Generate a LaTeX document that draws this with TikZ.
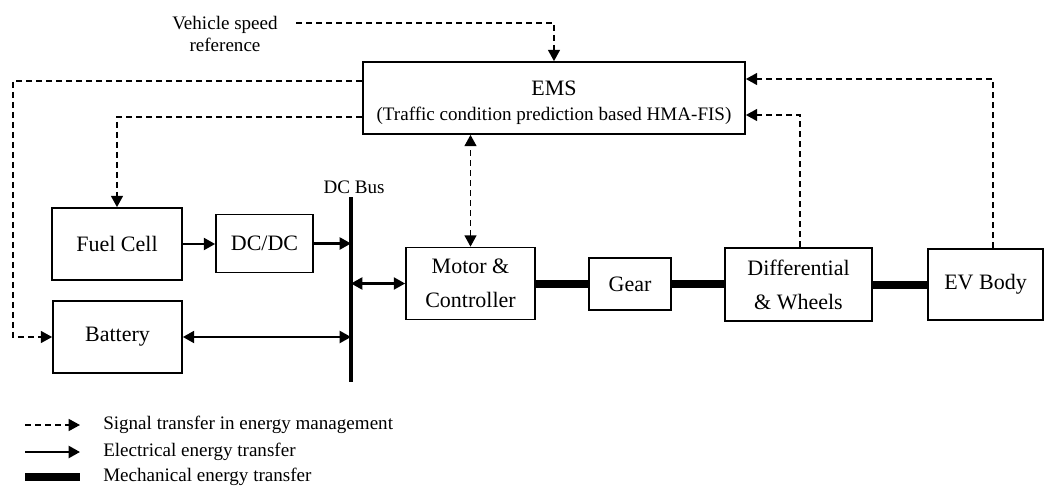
\documentclass[tikz,border=0pt]{standalone}
\usepackage{fontspec}
\setmainfont{Liberation Serif}
\usetikzlibrary{arrows.meta}

\begin{document}
\begin{tikzpicture}[x=0.75pt,y=0.75pt,yscale=-1,xscale=1,
  blk/.style={draw,line width=1.3pt,inner sep=0pt,align=center,
    font=\fontsize{16.5}{25.5}\selectfont},
  sig/.style={line width=1.1pt,dash pattern=on 4.5pt off 3pt,
    -{Triangle[length=8.5pt,width=9pt]}},
  elec/.style={line width=1.7pt,-{Triangle[length=8.5pt,width=9pt]}},
  mech/.style={line width=6pt},
  lbl/.style={inner sep=0pt,align=center,font=\fontsize{14.3}{16.5}\selectfont}]
\useasboundingbox (0,0) rectangle (1046,503);

%Blocks
\node[blk,minimum width=286.5pt,minimum height=54pt,font=\fontsize{14.3}{18.75}\selectfont] (ems) at (554,98)
  {{\fontsize{16.5}{18.75}\selectfont\rule{0pt}{18pt}EMS}\\(Traffic condition prediction based HMA-FIS)};
\node[blk,minimum width=97.5pt,minimum height=54pt] (fc) at (117,244) {Fuel Cell};
\node[blk,minimum width=72.75pt,minimum height=43.5pt] (dcdc) at (264.5,243.5) {DC/DC};
\node[blk,minimum width=96.75pt,minimum height=54pt] (bat) at (117.5,337) {Battery};
\node[blk,minimum width=96.75pt,minimum height=54pt] (motor) at (470.5,283.5) {Motor \&\\Controller};
\node[blk,minimum width=61.5pt,minimum height=39pt] (gear) at (630,284) {Gear};
\node[blk,minimum width=110.25pt,minimum height=54.75pt] (diff) at (798.5,284.5) {Differential\\\& Wheels};
\node[blk,minimum width=86.25pt,minimum height=53.25pt] (ev) at (985.5,284.5) {EV Body};

%Texts
\node[lbl] (vsr) at (225,34) {Vehicle speed\\reference};
\node[lbl] (buslbl) at (354,187) {DC Bus};

%DC bus
\coordinate (bustop) at (351,197);
\coordinate (busbot) at (351,382);
\draw[line width=2.3pt] (bustop) -- (busbot);

%Signal lines
\coordinate (vsrend) at (296,23);
\coordinate (lft) at (13,200);
\draw[sig] (vsrend) -| (ems.north);
\draw[sig] ([yshift=-12.75pt]ems.west) -| (lft) |- (bat.west);
\draw[sig] ([yshift=14.25pt]ems.west) -| (fc.north);
\draw[sig,{Triangle[length=8.5pt,width=9pt]}-{Triangle[length=8.5pt,width=9pt]}] (motor.north) -- (motor.north |- ems.south);
\draw[sig] ([xshift=1.1pt]diff.north) |- ([yshift=12.75pt]ems.east);
\draw[sig] ([xshift=5.6pt]ev.north) |- ([yshift=-14.25pt]ems.east);

%Electrical
\draw[elec] (fc.east) -- (fc.east -| dcdc.west);
\draw[elec] (dcdc.east) -- (dcdc.east -| bustop);
\draw[elec,{Triangle[length=8.5pt,width=9pt]}-{Triangle[length=8.5pt,width=9pt]}] (bat.east) -- (bat.east -| bustop);
\draw[elec,{Triangle[length=8.5pt,width=9pt]}-{Triangle[length=8.5pt,width=9pt]}] (motor.west -| bustop) -- (motor.west);

%Mechanical
\draw[mech] (motor.east) -- (motor.east -| gear.west);
\draw[mech] (gear.east) -- (gear.east -| diff.west);
\draw[mech] (diff.east) -- (diff.east -| ev.west);

%Legend
\coordinate (l1a) at (25,425);  \coordinate (l1b) at (80,425);
\coordinate (l2a) at (25,452);  \coordinate (l2b) at (80,452);
\coordinate (l3a) at (25,477);  \coordinate (l3b) at (80,477);
\draw[sig] (l1a) -- (l1b);
\draw[elec] (l2a) -- (l2b);
\draw[line width=5.5pt] (l3a) -- (l3b);
\node[lbl,anchor=west] (t1) at (103,425) {Signal transfer in energy management};
\node[lbl,anchor=west] (t2) at (103,452) {Electrical energy transfer};
\node[lbl,anchor=west] (t3) at (103,477) {Mechanical energy transfer};
\end{tikzpicture}
\end{document}
